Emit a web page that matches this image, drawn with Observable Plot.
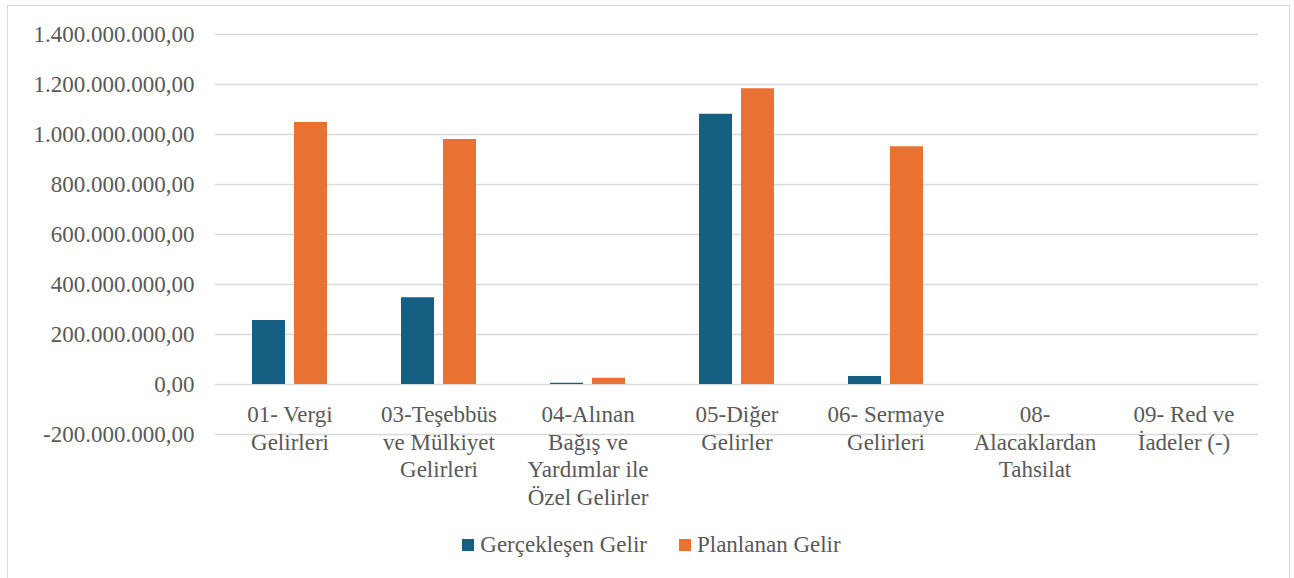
<!DOCTYPE html>
<html><head><meta charset="utf-8">
<script src="https://cdn.jsdelivr.net/npm/d3@7"></script>
<script src="https://cdn.jsdelivr.net/npm/@observablehq/plot@0.6"></script>
<style>
body{margin:0;background:#fff;font-family:"Liberation Serif","DejaVu Serif","Liberation Sans",sans-serif;}
#frame{position:absolute;left:7px;top:5px;width:1283px;height:580px;border:1px solid #d9d9d9;box-sizing:border-box;background:#fff;}
#chart svg{display:block;}
#legend{position:absolute;left:6px;right:0;top:527px;height:24px;display:flex;justify-content:center;align-items:center;font-size:23px;color:#595959;white-space:nowrap;}
.item{display:flex;align-items:center;}
.sw{width:12px;height:12px;margin-right:6px;}
.item + .item{margin-left:32px;}
</style></head><body>
<div id="frame"><div id="chart"></div><div id="legend"></div></div>
<script>
const categories = ["01- Vergi Gelirleri","03-Teşebbüs ve Mülkiyet Gelirleri","04-Alınan Bağış ve Yardımlar ile Özel Gelirler","05-Diğer Gelirler","06- Sermaye Gelirleri","08- Alacaklardan Tahsilat","09- Red ve İadeler (-)"];
const categoryLabels = ["01- Vergi\nGelirleri","03-Teşebbüs\nve Mülkiyet\nGelirleri","04-Alınan\nBağış ve\nYardımlar ile\nÖzel Gelirler","05-Diğer\nGelirler","06- Sermaye\nGelirleri","08-\nAlacaklardan\nTahsilat","09- Red ve\nİadeler (-)"];
const series = ["Gerçekleşen Gelir","Planlanan Gelir"];
const gerceklesen = [256e6, 347e6, 5e6, 1081e6, 32e6, 0, 0];
const planlanan = [1048e6, 980e6, 25e6, 1183e6, 951e6, 0, 0];
const yTicks = [-200e6, 0, 200e6, 400e6, 600e6, 800e6, 1000e6, 1200e6, 1400e6];
const colors = ["#156082", "#E97132"];

const rows = [];
categories.forEach((c, i) => {
  rows.push({category: c, series: series[0], value: gerceklesen[i]});
  rows.push({category: c, series: series[1], value: planlanan[i]});
});
const labelRows = categories.map((c, i) => ({category: c, label: categoryLabels[i]}));

const fmt = d3.formatLocale({decimal: ",", thousands: ".", grouping: [3], currency: ["", ""], minus: "-"}).format(",.2f");
const font = "Liberation Serif, DejaVu Serif, Liberation Sans, sans-serif";

const chart = Plot.plot({
  width: 1281, height: 520,
  marginLeft: 205, marginRight: 30, marginTop: 28, marginBottom: 92,
  style: {fontFamily: font, fontSize: "23px", color: "#595959", background: "transparent"},
  fx: {domain: categories, padding: 0, axis: null, label: null},
  x: {domain: series, paddingInner: 0.223, paddingOuter: 0.849, axis: null},
  y: {domain: [-200e6, 1400e6], ticks: yTicks, tickFormat: fmt, tickSize: 0, tickPadding: 21, label: null},
  color: {domain: series, range: colors},
  marks: [
    Plot.ruleY(yTicks, {stroke: "#d9d9d9", strokeWidth: 1.5}),
    Plot.barY(rows, {fx: "category", x: "series", y: "value", fill: "series"}),
    Plot.text(labelRows, {fx: "category", y: 0, text: "label", lineAnchor: "top", dy: 18, lineHeight: 1.2, fontSize: 23, fill: "#595959"})
  ]
});
document.getElementById("chart").appendChild(chart);

const legend = document.getElementById("legend");
series.forEach((s, i) => {
  const item = document.createElement("div");
  item.className = "item";
  const sw = document.createElement("div");
  sw.className = "sw";
  sw.style.background = colors[i];
  const t = document.createElement("span");
  t.textContent = s;
  item.appendChild(sw); item.appendChild(t);
  legend.appendChild(item);
});
</script>
</body></html>
